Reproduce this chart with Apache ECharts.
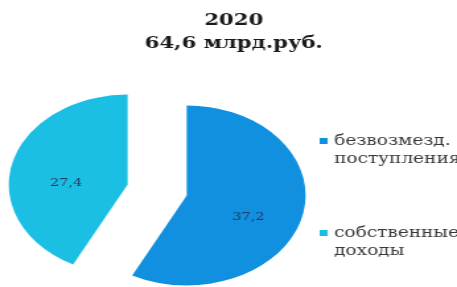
<!DOCTYPE html>
<html>
<head>
<meta charset="utf-8">
<script src="https://cdn.jsdelivr.net/npm/echarts@6/dist/echarts.min.js"></script>
<style>
  html, body { margin: 0; padding: 0; background: #fff; overflow: hidden; }
  /* the source picture is stretched sideways, so the chart is drawn narrow and widened */
  #main { width: 346px; height: 287px; transform: scaleX(1.3208); transform-origin: 0 0; }
</style>
</head>
<body>
<div id="main"></div>
<script>
var titleLines = ['2020', '64,6 млрд.руб.'];
var categories = ['безвозмезд.\nпоступления', 'собственные\nдоходы'];
var values = [37.2, 27.4];
var colors = ['#1190E0', '#1BBFE3'];

var myChart = echarts.init(document.getElementById('main'));

var serif = "'DejaVu Serif', serif";

var pieData = categories.map(function (name, i) {
    return { name: name, value: values[i], selected: true, itemStyle: { color: colors[i] } };
});

option = {
    animation: false,
    title: {
        text: titleLines.join('\n'),
        left: 177,
        top: 9,
        padding: 0,
        textAlign: 'center',
        textStyle: {
            fontFamily: serif,
            fontWeight: 'bold',
            fontSize: 16,
            lineHeight: 23,
            color: '#1a1a1a'
        }
    },
    legend: {
        orient: 'vertical',
        left: 237,
        top: 127,
        itemWidth: 6,
        itemHeight: 24,
        itemGap: 56,
        // square at the top of a tall icon box, so it sits beside the first text line
        icon: 'path://M0,0h6v6h-6z M0,24h0.01v0.01h-0.01z',
        symbolKeepAspect: false,
        selectedMode: false,
        data: categories,
        textStyle: {
            fontFamily: serif,
            fontSize: 14,
            lineHeight: 18,
            color: '#383838'
        }
    },
    series: [
        {
            type: 'pie',
            center: [119, 190],
            radius: 90,
            startAngle: 90,
            clockwise: true,
            selectedMode: 'multiple',
            selectedOffset: 23,
            silent: true,
            itemStyle: { borderWidth: 0 },
            select: { itemStyle: { borderWidth: 0 } },
            label: {
                show: true,
                position: 'inside',
                fontFamily: serif,
                fontSize: 11,
                lineHeight: 20,
                color: '#1f3a5f',
                formatter: function (p) { return '\n' + String(p.value).replace('.', ','); }
            },
            labelLine: { show: false },
            data: pieData
        }
    ]
};

myChart.setOption(option);
</script>
</body>
</html>
